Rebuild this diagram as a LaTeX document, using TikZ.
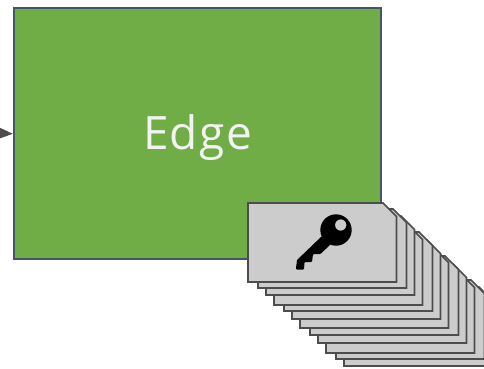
\documentclass[tikz,border=0pt]{standalone}
\usepackage{fontspec}
\setmainfont{Open Sans}[Scale=1]
\usetikzlibrary{arrows.meta}
\definecolor{edgegreen}{HTML}{70AD47}
\definecolor{edgeline}{HTML}{44546A}
\definecolor{cardfill}{HTML}{CCCCCC}
\definecolor{cardline}{HTML}{4D4D4D}
\definecolor{edgetext}{HTML}{F2F2F2}
\tikzset{
  edgebox/.style={draw=edgeline,fill=edgegreen,line width=1.8pt,minimum width=367.5pt,minimum height=251pt,inner sep=0pt,anchor=north west},
  edgelabel/.style={text=edgetext,font=\fontsize{46}{50}\selectfont,inner sep=0pt},
  cardshape/.style={draw=cardline,fill=cardfill,line width=1.7pt,line join=miter},
  inarrow/.style={draw=cardline,line width=1pt,-{Triangle[length=15pt,width=12pt]}}
}
\newcommand{\cardat}[2]{%
  \path[cardshape,shift={(#1,#2)}] (0,0) -- (135,0) -- (148.5,13.5) -- (148.5,79) -- (0,79) -- cycle;}
\begin{document}
\begin{tikzpicture}[x=1pt,y=-1pt]
\useasboundingbox (0,0) rectangle (484,368);
\clip (0,0) rectangle (484,368);
\coordinate (src) at (-6,132.9);
\node[edgebox] (edge) at (12.8,7.4) {};
\node[edgelabel] (edgetext) at (197.5,138) {\addfontfeature{LetterSpace=3}Edge};
\draw[inarrow] (src) -- (edge.west);
\foreach \dx/\dy in {96/84,88/77,78/71,70/61,62/53,52/46,44/37,36/29,26/23,18/13,10/6,0/0}{
  \cardat{\the\numexpr248+\dx\relax}{\the\numexpr203+\dy\relax}
}
\fill[black,even odd rule]
  (336,230) circle [radius=15.7]
  (340.7,225) circle [radius=5.7];
\fill[black] (322,236) -- (297,260) -- (296,268) [rounded corners=1pt] -- (296,269.5) -- (304,269.5) -- (304.5,262) -- (312,262) -- (313,254) -- (320.5,254) -- (332,243) -- cycle;
\end{tikzpicture}
\end{document}
